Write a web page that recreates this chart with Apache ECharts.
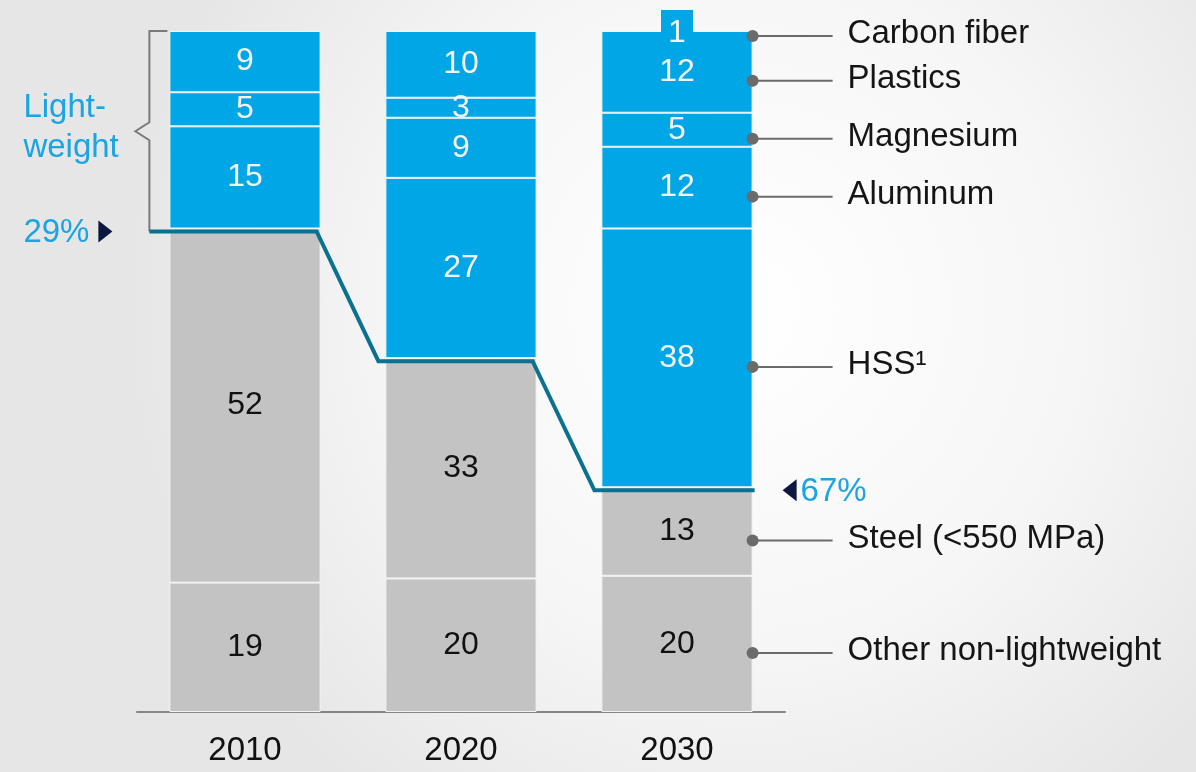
<!DOCTYPE html>
<html>
<head>
<meta charset="utf-8">
<script src="https://cdn.jsdelivr.net/npm/echarts@6/dist/echarts.min.js"></script>
<style>
html, body { margin: 0; height: 100%; }
#main { width: 1196px; height: 772px; }
</style>
</head>
<body>
<div id="main"></div>
<script>
// values per year, bottom of the stack first
var years = ['2010', '2020', '2030'];
var other = [19, 20, 20];
var steel = [52, 33, 13];
var hss = [0, 27, 38];
var aluminum = [15, 9, 12];
var magnesium = [5, 3, 5];
var plastics = [9, 10, 12];
var carbon = [0, 0, 1];
var shareLabels = ['29%', '67%'];
var calloutNames = ['Other non-lightweight', 'Steel (<550 MPa)', 'HSS\u00b9', 'Aluminum', 'Magnesium', 'Plastics', 'Carbon fiber'];

var FONT = "'Liberation Sans', Arial, sans-serif";
var BLUE = '#00a6e5', GRAY = '#c3c3c3', TEAL = '#0a7191', DOT = '#6b6b6b', NAVY = '#0b1840', LBLUE = '#1aa4e2';

var layers = [
  { name: 'Other non-lightweight', data: other, color: GRAY, text: '#111' },
  { name: 'Steel (<550 MPa)', data: steel, color: GRAY, text: '#111' },
  { name: 'HSS', data: hss, color: BLUE, text: '#f4f4f4' },
  { name: 'Aluminum', data: aluminum, color: BLUE, text: '#f4f4f4' },
  { name: 'Magnesium', data: magnesium, color: BLUE, text: '#f4f4f4' },
  { name: 'Plastics', data: plastics, color: BLUE, text: '#f4f4f4' }
];

// each column is shown as 100 %
var totals = years.map(function (y, i) {
  return layers.reduce(function (s, l) { return s + l.data[i]; }, 0);
});
function cum(k, i) {
  var s = 0;
  for (var j = 0; j <= k; j++) s += layers[j].data[i] / totals[i] * 100;
  return s;
}

var chart = echarts.init(document.getElementById('main'));

var series = layers.map(function (l) {
  return {
    type: 'bar',
    name: l.name,
    stack: 'mix',
    barWidth: '70%',
    silent: true,
    z: 2,
    data: l.data.map(function (v, i) {
      return { value: v ? v / totals[i] * 100 : '-', raw: v };
    }),
    itemStyle: { color: l.color, borderColor: '#f3f3f3', borderWidth: 1 },
    label: {
      show: true, position: 'inside', color: l.text, fontSize: 32, fontFamily: FONT,
      formatter: function (p) { return p.data.raw ? String(p.data.raw) : ''; }
    }
  };
});

// carbon fiber tab on top of the column
series.push({
  type: 'custom',
  silent: true,
  z: 5,
  data: carbon.map(function (v, i) { return [i, v]; }).filter(function (d) { return d[1] > 0; }),
  renderItem: function (params, api) {
    var p = api.coord([api.value(0), 100]);
    return {
      type: 'group',
      children: [
        { type: 'rect', shape: { x: p[0] - 16, y: p[1] - 21, width: 32, height: 23 }, style: { fill: BLUE } },
        { type: 'text', style: { text: String(api.value(1)), x: p[0], y: p[1] + 2, fill: '#f4f4f4',
          font: '32px ' + FONT, align: 'center', verticalAlign: 'middle', textAlign: 'center', textVerticalAlign: 'middle' } }
      ]
    };
  }
});

// callouts at the right of the last column
var last = years.length - 1;
var calloutData = layers.map(function (l, k) {
  var lo = k === 0 ? 0 : cum(k - 1, last);
  return [last, (lo + cum(k, last)) / 2, k];
});
calloutData.push([last, 100, layers.length]);
series.push({
  type: 'custom',
  silent: true,
  z: 5,
  data: calloutData,
  renderItem: function (params, api) {
    var bw = api.size([1, 0])[0] * 0.7;
    var p = api.coord([api.value(0), api.value(1)]);
    var x = p[0] + bw / 2, y = p[1] + (api.value(1) >= 100 ? 5 : 9);
    return {
      type: 'group',
      children: [
        { type: 'line', shape: { x1: x, y1: y, x2: x + 80, y2: y }, style: { stroke: DOT, lineWidth: 2 } },
        { type: 'circle', shape: { cx: x, cy: y, r: 6 }, style: { fill: DOT } },
        { type: 'text', style: { text: calloutNames[api.value(2)], x: x + 95, y: y - 2, fill: '#151515',
          font: '33px ' + FONT, align: 'left', verticalAlign: 'middle', textAlign: 'left', textVerticalAlign: 'middle' } }
      ]
    };
  }
});

// lightweight boundary line, brace and share labels
series.push({
  type: 'custom',
  silent: true,
  z: 5,
  data: [[0, 0]],
  renderItem: function (params, api) {
    var bw = api.size([1, 0])[0] * 0.7;
    var pts = [];
    var levels = years.map(function (y, i) { return api.coord([i, cum(1, i)]); });
    var top0 = api.coord([0, 100]);
    var bx = top0[0] - bw / 2 - 20;
    levels.forEach(function (p, i) {
      var l = p[0] - bw / 2, r = p[0] + bw / 2, y = p[1] + 3;
      pts.push([i === 0 ? bx : l - 7, y]);
      pts.push([i === levels.length - 1 ? r + 2 : r - 4, y]);
    });
    var yTop = top0[1], yBot = levels[0][1] + 3, yMid = (yTop + yBot) / 2;
    var lp = levels[last], lr = lp[0] + bw / 2, ly = lp[1] + 3;
    var txt = function (t, x, y, c, align) {
      return { type: 'text', style: { text: t, x: x, y: y, fill: c, font: '33px ' + FONT, lineHeight: 40,
        align: align, verticalAlign: 'middle', textAlign: align, textVerticalAlign: 'middle' } };
    };
    return {
      type: 'group',
      children: [
        { type: 'polyline', shape: { points: [[bx + 18, yTop], [bx, yTop], [bx, yMid - 9], [bx - 14, yMid], [bx, yMid + 9], [bx, yBot]] },
          style: { stroke: '#7a7a7a', lineWidth: 2, fill: null } },
        { type: 'polyline', shape: { points: pts }, style: { stroke: TEAL, lineWidth: 4, fill: null } },
        txt('Light-\nweight', bx - 126, yMid - 3, LBLUE, 'left'),
        txt(shareLabels[0], bx - 126, yBot + 1, LBLUE, 'left'),
        { type: 'polygon', shape: { points: [[bx - 51, yBot - 11], [bx - 37, yBot], [bx - 51, yBot + 11]] }, style: { fill: NAVY } },
        { type: 'polygon', shape: { points: [[lr + 44, ly - 11], [lr + 30, ly], [lr + 44, ly + 11]] }, style: { fill: NAVY } },
        txt(shareLabels[1], lr + 48, ly + 2, LBLUE, 'left')
      ]
    };
  }
});

chart.setOption({
  animation: false,
  backgroundColor: {
    type: 'radial', x: 0.62, y: 0.4, r: 0.8,
    colorStops: [{ offset: 0, color: '#ffffff' }, { offset: 0.55, color: '#f6f6f6' }, { offset: 1, color: '#e6e6e6' }]
  },
  grid: { left: 137, right: 411, top: 31, bottom: 60, containLabel: false },
  xAxis: {
    type: 'category',
    data: years,
    axisTick: { show: false },
    axisLine: { lineStyle: { color: '#858585', width: 2 } },
    axisLabel: { color: '#111', fontSize: 33, fontFamily: FONT, margin: 22 }
  },
  yAxis: { type: 'value', min: 0, max: 100, show: false },
  series: series
});
</script>
</body>
</html>
